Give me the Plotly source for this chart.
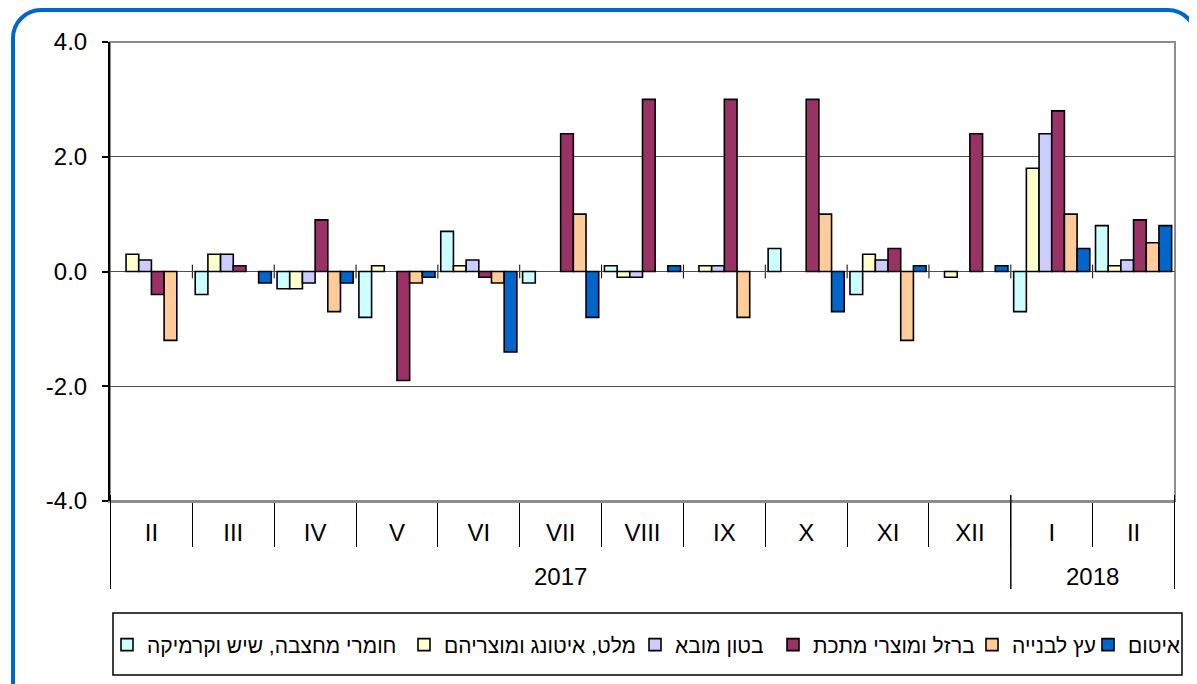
import plotly.graph_objects as go

# ---------------- data ----------------
years = ["2017"] * 11 + ["2018"] * 2
months = ["II", "III", "IV", "V", "VI", "VII", "VIII", "IX", "X", "XI", "XII", "I", "II"]

series_names = [
    "חומרי מחצבה, שיש וקרמיקה",
    "מלט, איטונג ומוצריהם",
    "בטון מובא",
    "ברזל ומוצרי מתכת",
    "עץ לבנייה",
    "איטום",
]
quarry = [None, -0.4, -0.3, -0.8, 0.7, -0.2, 0.1, None, 0.4, -0.4, None, -0.7, 0.8]
cement = [0.3, 0.3, -0.3, 0.1, 0.1, None, -0.1, 0.1, None, 0.3, -0.1, 1.8, 0.1]
concrete = [0.2, 0.3, -0.2, None, 0.2, None, -0.1, 0.1, None, 0.2, None, 2.4, 0.2]
iron = [-0.4, 0.1, 0.9, -1.9, -0.1, 2.4, 3.0, 3.0, 3.0, 0.4, 2.4, 2.8, 0.9]
wood = [-1.2, None, -0.7, -0.2, -0.2, 1.0, None, -0.8, 1.0, -1.2, None, 1.0, 0.5]
sealing = [None, -0.2, -0.2, -0.1, -1.4, -0.8, 0.1, None, -0.7, 0.1, 0.1, 0.4, 0.8]

y_tick_vals = [-4, -2, 0, 2, 4]
y_tick_text = ["-4.0", "-2.0", "0.0", "2.0", "4.0"]

# unique category keys (month + year), shown with month labels only
cats = [f"{m} {y}" for m, y in zip(months, years)]

# ---------------- style ----------------
colors = ["#CCFFFF", "#FFFFCC", "#CCCCFF", "#993366", "#FFCC99", "#0066CC"]
legend_key_x = [130, 427, 658, 796, 995, 1111]   # screen x of each legend key (layout)
FONT = "Arial, Liberation Sans, DejaVu Sans, sans-serif"
FS = 24
LFS = 21
OX, OY = 8, 8                      # page body margin
W, H = 1197 - OX, 684 - OY
L, T, PW, PH = 102, 34, 1065, 459
R, B = W - L - PW, H - T - PH


def px(xs):
    """screen x (px) -> paper x"""
    return (xs - OX - L) / PW


def py(ys):
    """screen y (px) -> paper y"""
    return (OY + T + PH - ys) / PH


fig = go.Figure()
legends = {}
for i, (name, vals, col) in enumerate(zip(series_names, [quarry, cement, concrete, iron, wood, sealing], colors)):
    lg = "legend" if i == 0 else f"legend{i + 1}"
    fig.add_trace(go.Bar(
        x=cats, y=vals, name=name, legend=lg,
        marker=dict(color=col, line=dict(color="black", width=1.6)),
    ))
    legends[lg] = dict(orientation="h", xref="container", yref="container",
                       x=(legend_key_x[i] - 23 - OX) / W, xanchor="left",
                       y=(H - (645 - OY)) / H, yanchor="middle",
                       font=dict(size=LFS, family=FONT, color="black"),
                       bgcolor="rgba(0,0,0,0)", borderwidth=0, itemwidth=30)

# blue rounded outer frame
x0, y0, x1, y1, r = 13, 10, 1196, 692, 28
k = 0.45
frame = (
    f"M {px(x0)},{py(y1)} L {px(x0)},{py(y0 + r)} "
    f"C {px(x0)},{py(y0 + r * k)} {px(x0 + r * k)},{py(y0)} {px(x0 + r)},{py(y0)} "
    f"L {px(x1 - r)},{py(y0)} "
    f"C {px(x1 - r * k)},{py(y0)} {px(x1)},{py(y0 + r * k)} {px(x1)},{py(y0 + r)} "
    f"L {px(x1)},{py(y1)}"
)
shapes = [
    dict(type="path", xref="paper", yref="paper", path=frame,
         line=dict(color="#0066CC", width=4), layer="below"),
    dict(type="rect", xref="paper", yref="paper", x0=0, x1=1, y0=0, y1=1,
         line=dict(color="#8c8c8c", width=2), layer="below"),
    dict(type="rect", xref="paper", yref="paper", x0=px(113), x1=px(1182), y0=py(675), y1=py(613),
         line=dict(color="black", width=1.5), layer="below"),
]

# small category tick marks crossing the zero line
for i in range(len(cats) - 1):
    shapes.append(dict(type="line", xref="x", yref="y", x0=i + 0.5, x1=i + 0.5,
                       y0=-0.12, y1=0.12, line=dict(color="black", width=1), layer="below"))

# year groups: dividers and centred labels
annotations = []
groups = []
for i, yv in enumerate(years):
    if not groups or groups[-1][0] != yv:
        groups.append([yv, i, i])
    else:
        groups[-1][2] = i
for yv, a, b in groups:
    annotations.append(dict(text=yv, xref="x", yref="paper", x=(a + b) / 2, y=py(576),
                            showarrow=False, yanchor="middle", xanchor="center",
                            font=dict(size=FS, color="black", family=FONT)))
    for xb in (a - 0.5, b + 0.5):
        shapes.append(dict(type="line", xref="x", yref="paper", x0=xb, x1=xb,
                           y0=py(495), y1=py(589), line=dict(color="black", width=1)))

fig.update_layout(
    width=W, height=H,
    margin=dict(l=L, r=R, t=T, b=B, autoexpand=False),
    paper_bgcolor="white", plot_bgcolor="white",
    font=dict(family=FONT, size=FS, color="black"),
    barmode="group", bargap=0.07, bargroupgap=0,
    showlegend=True,
    shapes=shapes,
    annotations=annotations,
    **legends,
)
fig.update_xaxes(
    type="category", categoryorder="array", categoryarray=cats,
    tickmode="array", tickvals=cats, ticktext=months,
    showgrid=False, zeroline=False,
    showline=True, linecolor="#8c8c8c", linewidth=2,
    tickson="boundaries", ticks="outside", ticklen=44, tickcolor="black", tickwidth=1,
    ticklabelstandoff=9,
    tickfont=dict(size=FS),
)
fig.update_yaxes(
    range=[-4, 4], tickvals=y_tick_vals, ticktext=y_tick_text,
    showgrid=True, gridcolor="#4d4d4d", gridwidth=1,
    zeroline=True, zerolinecolor="#4d4d4d", zerolinewidth=1,
    showline=True, linecolor="black", linewidth=2,
    ticks="outside", ticklen=6, tickcolor="black", tickwidth=2,
    ticklabelstandoff=10,
    tickfont=dict(size=FS),
)

fig.write_html("out.html")
